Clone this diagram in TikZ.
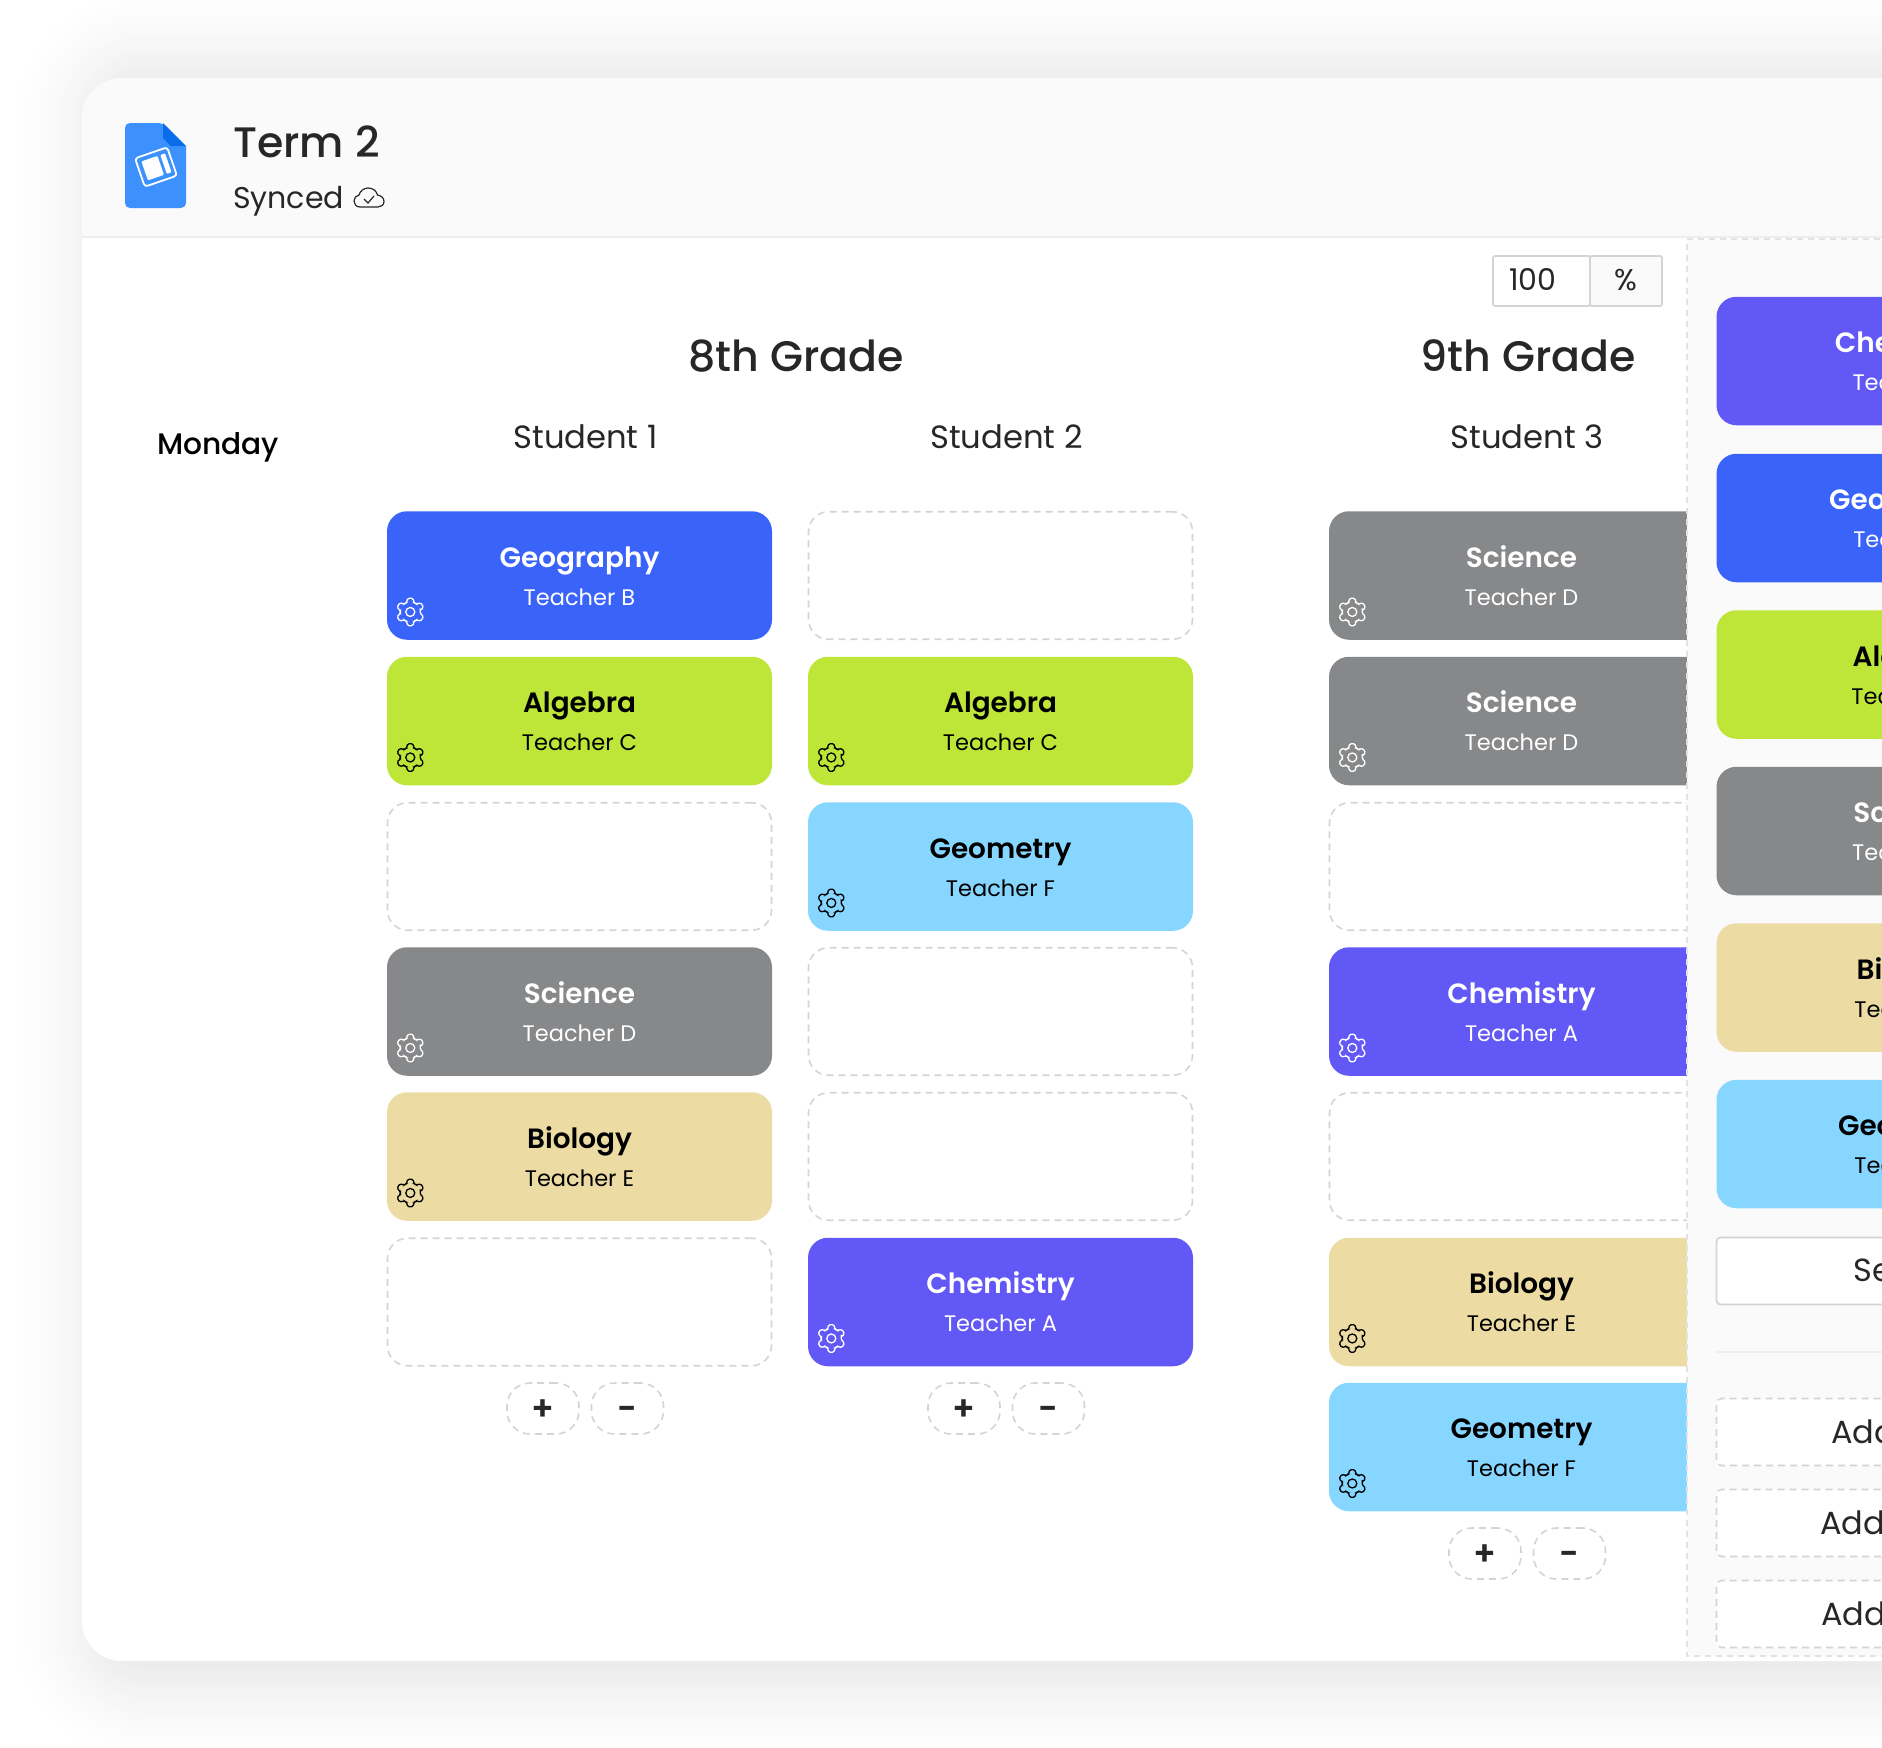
\documentclass[tikz,border=0pt]{standalone}
\usepackage{fontspec}
\setmainfont{Poppins}[BoldFont=* SemiBold]
\newfontfamily\medfont{Poppins Medium}
\definecolor{inkdark}{HTML}{272727}
\definecolor{headbg}{HTML}{FAFAFA}
\definecolor{rulegray}{HTML}{EEEEEE}
\definecolor{dashgray}{HTML}{D4D4D4}
\definecolor{panelgray}{HTML}{E2E2E2}
\definecolor{geoblue}{HTML}{3A63FA}
\definecolor{alglime}{HTML}{BDE639}
\definecolor{skyblue}{HTML}{86D6FF}
\definecolor{chempurple}{HTML}{6258F5}
\definecolor{scigray}{HTML}{87888A}
\definecolor{biotan}{HTML}{ECDCA3}
\definecolor{docblue}{HTML}{3D91FE}
\definecolor{docfold}{HTML}{0A6CE8}
\newcommand{\lesson}[2]{\offinterlineskip{\bfseries\fontsize{27.9}{27.9}\selectfont\rule[-18pt]{0pt}{49pt}#1}\\{\fontsize{22.5}{22.5}\selectfont\rule[-10pt]{0pt}{29pt}#2}}
\tikzset{x=1pt, y=-1pt,
    card/.style={minimum width=385pt, minimum height=128.5pt, rounded corners=20pt, align=center, inner sep=0pt},
    light/.style={card, text=white},
    dark/.style={card, text=black},
    emptyslot/.style={minimum width=384pt, minimum height=127.5pt, rounded corners=20pt, draw=dashgray, line width=1.6pt, dash pattern=on 7pt off 5pt, inner sep=0pt},
    roundbtn/.style={minimum width=72pt, minimum height=51pt, rounded corners=23pt, draw=dashgray, line width=1.6pt, dash pattern=on 7pt off 5pt, inner sep=0pt, text=inkdark, text height=0pt, text depth=0pt, font=\bfseries\fontsize{34}{34}\selectfont},
    addbox/.style={minimum width=385pt, minimum height=67pt, rounded corners=5pt, fill=white, draw=dashgray, line width=1.6pt, dash pattern=on 7pt off 5pt, inner sep=0pt},
    addtext/.style={anchor=base west, text=inkdark, inner sep=0pt, font=\fontsize{32}{32}\selectfont},
    gear/.pic={
        \draw[pic actions, line width=1.3pt, rounded corners=1.4pt] (8:10pt)
            \foreach \a in {30,90,...,330} {-- (\a-22:10pt) -- (\a-11:14pt) -- (\a+11:14pt) -- (\a+22:10pt)} -- cycle;
        \draw[pic actions, line width=1.3pt] (0,0) circle (4.5pt);
    },
}

\begin{document}
\begin{tikzpicture}
    \useasboundingbox (0,0) rectangle (1882,1748);
    \clip (0,0) rectangle (1882,1748);
    \fill[white] (0,0) rectangle (1882,1748);

    \foreach \s in {100,97,...,1} {
        \pgfmathsetmacro{\p}{7.5*(1-\s/100)^1.5}
        \fill[black!\p!white, rounded corners=40+\s] (107-\s,83-\s) rectangle (2100,1666+\s);
    }
    \fill[white, rounded corners=40pt] (82,78) rectangle (2100,1661);
    \fill[headbg] (82,237) [rounded corners=40pt] -- (82,78) [sharp corners] -- (2100,78) -- (2100,237) -- cycle;
    \draw[rulegray, line width=1.6pt] (82,237) -- (1882,237);

    \fill[docblue, rounded corners=5pt] (125,123) -- (163,123) [sharp corners] -- (186,146) [rounded corners=5pt] -- (186,208) -- (125,208) -- cycle;
    \fill[docfold] (163,123) -- (186,146) -- (171,146) -- (163,138) -- cycle;
    \begin{scope}[shift={(156,167)}, rotate=19]
        \draw[white, line width=1.8pt, rounded corners=3pt] (-17,-15) rectangle (17,15);
        \fill[white, rounded corners=1pt] (-12,-10) rectangle (5,10);
        \fill[white, rounded corners=1pt] (8,-10) rectangle (13,10);
    \end{scope}

    \node[anchor=base west, inner sep=0pt, text=inkdark, font=\medfont\fontsize{42.6}{42.6}\selectfont] at (233,157) (term) {Term 2};
    \node[anchor=base west, inner sep=0pt, text=inkdark, font=\fontsize{30}{30}\selectfont] at (233,208) (synced) {Synced};
    \draw[inkdark, line width=1.2pt, line join=round] (360,207) .. controls (356,207) and (354,204) .. (354,201)
        .. controls (354,198) and (356,195.5) .. (359,195) .. controls (360,191) and (364,188) .. (368,188)
        .. controls (373,188) and (376.5,191) .. (377.5,195) .. controls (381,195.5) and (384,198) .. (384,201.5)
        .. controls (384,205) and (381,207) .. (378,207) -- cycle;
    \draw[inkdark, line width=1.2pt] (364,199) -- (368,203) -- (374,196);

    \node[anchor=base, inner sep=0pt, text=inkdark, font=\medfont\fontsize{42.7}{42.7}\selectfont] at (796,371) (grade8) {8th Grade};
    \node[anchor=base, inner sep=0pt, text=inkdark, font=\medfont\fontsize{42.7}{42.7}\selectfont] at (1528,371) (grade9) {9th Grade};
    \node[anchor=base west, inner sep=0pt, text=black, font=\medfont\fontsize{29.7}{29.7}\selectfont] at (157,454) (monday) {Monday};
    \node[anchor=base, inner sep=0pt, text=inkdark, font=\fontsize{32.2}{32.2}\selectfont] at (585.5,448) (student1) {Student 1};
    \node[anchor=base, inner sep=0pt, text=inkdark, font=\fontsize{32.2}{32.2}\selectfont] at (1006.5,448) (student2) {Student 2};
    \node[anchor=base, inner sep=0pt, text=inkdark, font=\fontsize{32.2}{32.2}\selectfont] at (1527,448) (student3) {Student 3};

    \node[draw=dashgray, line width=1.8pt, fill=white, rounded corners=2pt, minimum width=97pt, minimum height=50pt, inner sep=0pt] at (1541.5,281) (zoombox) {};
    \node[draw=dashgray, line width=1.8pt, fill=headbg, rounded corners=2pt, minimum width=72pt, minimum height=50pt, inner sep=0pt] at (1626,281) (unitbox) {};
    \node[anchor=base west, inner sep=0pt, text=inkdark, font=\fontsize{30}{30}\selectfont] at (1509,290) (zoomval) {100};
    \node[anchor=base, inner sep=0pt, text=inkdark, font=\fontsize{30}{30}\selectfont] at (1626,290) (unit) {\%};

    \node[light, fill=geoblue] at (579.5,575.5) (geo1) {\lesson{Geography}{Teacher B}};
    \node[dark, fill=alglime] at (579.5,721) (alg1) {\lesson{Algebra}{Teacher C}};
    \node[emptyslot] at (579.5,866.5) (empty1a) {};
    \node[light, fill=scigray] at (579.5,1011.5) (sci1) {\lesson{Science}{Teacher D}};
    \node[dark, fill=biotan] at (579.5,1156.5) (bio1) {\lesson{Biology}{Teacher E}};
    \node[emptyslot] at (579.5,1302) (empty1b) {};
    \node[roundbtn] at (543,1408.5) (plus1) {\raisebox{-12pt}{+}};
    \node[roundbtn] at (627.5,1408.5) (minus1) {\raisebox{-11.5pt}{-}};

    \node[emptyslot] at (1000.5,575.5) (empty2a) {};
    \node[dark, fill=alglime] at (1000.5,721) (alg2) {\lesson{Algebra}{Teacher C}};
    \node[dark, fill=skyblue] at (1000.5,866.5) (geom2) {\lesson{Geometry}{Teacher F}};
    \node[emptyslot] at (1000.5,1011.5) (empty2b) {};
    \node[emptyslot] at (1000.5,1156.5) (empty2c) {};
    \node[light, fill=chempurple] at (1000.5,1302) (chem2) {\lesson{Chemistry}{Teacher A}};
    \node[roundbtn] at (964,1408.5) (plus2) {\raisebox{-12pt}{+}};
    \node[roundbtn] at (1048.5,1408.5) (minus2) {\raisebox{-11.5pt}{-}};

    \node[light, fill=scigray] at (1521.5,575.5) (sci3a) {\lesson{Science}{Teacher D}};
    \node[light, fill=scigray] at (1521.5,721) (sci3b) {\lesson{Science}{Teacher D}};
    \node[emptyslot] at (1521.5,866.5) (empty3a) {};
    \node[light, fill=chempurple] at (1521.5,1011.5) (chem3) {\lesson{Chemistry}{Teacher A}};
    \node[emptyslot] at (1521.5,1156.5) (empty3b) {};
    \node[dark, fill=biotan] at (1521.5,1302) (bio3) {\lesson{Biology}{Teacher E}};
    \node[dark, fill=skyblue] at (1521.5,1447) (geom3) {\lesson{Geometry}{Teacher F}};
    \node[roundbtn] at (1485,1553.5) (plus3) {\raisebox{-12pt}{+}};
    \node[roundbtn] at (1569.5,1553.5) (minus3) {\raisebox{-11.5pt}{-}};

    \foreach \n in {geo1,sci1,chem2,sci3a,sci3b,chem3}
        \pic[draw=white] at ([shift={(23.5,-28)}]\n.south west) {gear};
    \foreach \n in {alg1,bio1,alg2,geom2,bio3,geom3}
        \pic[draw=black] at ([shift={(23.5,-28)}]\n.south west) {gear};

    \draw[panelgray, fill=headbg, line width=1.4pt, dash pattern=on 6pt off 5pt] (2100,239) -- (1687,239) -- (1687,1656) -- (2100,1656);

    \node[light, fill=chempurple] at (1909,361) (chemp) {\lesson{Chemistry}{Teacher A}};
    \node[light, fill=geoblue] at (1909,518) (geop) {\lesson{Geography}{Teacher B}};
    \node[dark, fill=alglime] at (1909,674.5) (algp) {\lesson{Algebra}{Teacher C}};
    \node[light, fill=scigray] at (1909,831) (scip) {\lesson{Science}{Teacher D}};
    \node[dark, fill=biotan] at (1909,987.5) (biop) {\lesson{Biology}{Teacher E}};
    \node[dark, fill=skyblue] at (1909,1144) (geomp) {\lesson{Geometry}{Teacher F}};

    \node[draw=dashgray, fill=white, line width=1.8pt, rounded corners=4pt, minimum width=385pt, minimum height=67pt, inner sep=0pt] at (1909,1271) (searchbox) {};
    \node[addtext] at (1853,1281) (searchtext) {Se};
    \draw[rulegray, line width=1.6pt] (1716,1352) -- (1882,1352);

    \node[addbox] at (1909,1432) (add1) {};
    \node[addbox] at (1909,1523) (add2) {};
    \node[addbox] at (1909,1614) (add3) {};
    \node[addtext] at (1831,1443) (addt1) {Add};
    \node[addtext] at (1820,1534) (addt2) {Add};
    \node[addtext] at (1821,1625) (addt3) {Add};
\end{tikzpicture}
\end{document}
